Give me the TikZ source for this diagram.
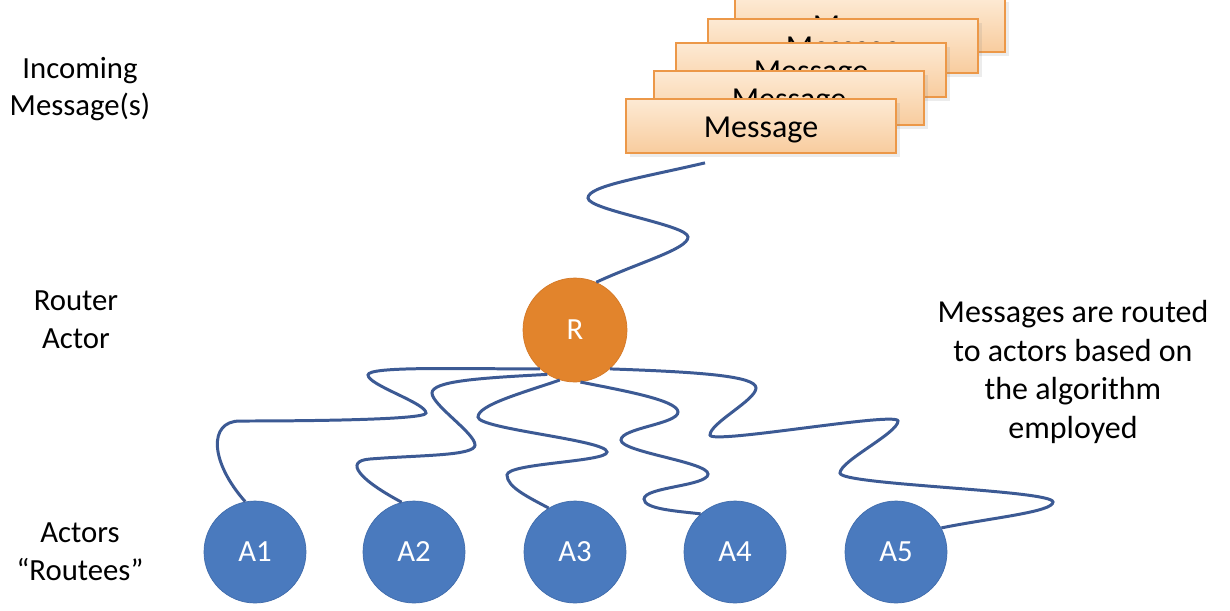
\documentclass[tikz,border=0pt]{standalone}
\usepackage{fontspec}
\setmainfont{Carlito}
\usetikzlibrary{calc,shadows}
\definecolor{ActorBlue}{RGB}{74,122,190}
\definecolor{ActorEdge}{RGB}{64,108,172}
\definecolor{RouterOrange}{RGB}{226,132,44}
\definecolor{RouterEdge}{RGB}{212,120,38}
\definecolor{WireBlue}{RGB}{60,90,148}
\definecolor{MsgTop}{RGB}{253,234,212}
\definecolor{MsgBottom}{RGB}{248,204,158}
\definecolor{MsgEdge}{RGB}{236,152,72}
\tikzset{
  msgbox/.style={draw=MsgEdge,line width=1pt,top color=MsgTop,bottom color=MsgBottom,
    minimum width=5.4cm,minimum height=1.08cm,inner sep=0pt,text height=13.6pt,text depth=0pt,
    font=\fontsize{18.2}{21.8}\selectfont,drop shadow={opacity=.15}},
  actor/.style={circle,fill=ActorBlue,draw=ActorEdge,text=white,minimum size=2.04cm,inner sep=0pt},
  router/.style={circle,fill=RouterOrange,draw=RouterEdge,text=white,minimum size=2.08cm,inner sep=0pt},
  sidetext/.style={align=center,inner sep=0pt},
  wire/.style={WireBlue,line width=1.7pt}
}

\begin{document}
\begin{tikzpicture}[x=0.02cm,y=-0.02cm,every node/.style={font=\fontsize{17.5}{21.5}\selectfont}]
  \useasboundingbox (0,0) rectangle (1230,610);
  \clip (0,0) rectangle (1230,610);
  \fill[white] (0,0) rectangle (1230,610);
  \foreach \i/\x/\y in {5/870/25,4/843/46,3/811/70,2/789/98,1/761/126}
    \node[msgbox] (m\i) at (\x,\y) {Message};
  \node[router] (router) at (575,330) {R};
  \foreach \i/\x in {1/255,2/414,3/575,4/735,5/896}
    \node[actor] (a\i) at (\x,552) {A\i};
  \node[sidetext] (incoming) at (80,89) {Incoming\\Message(s)};
  \node[sidetext] (routerlabel) at (76,320) {Router\\Actor};
  \node[sidetext] (actorslabel) at (80,552) {Actors\\“Routees”};
  \node[sidetext,font=\fontsize{18.2}{22}\selectfont] (explain) at (1073,372) {Messages are routed\\to actors based on\\the algorithm\\employed};
  \draw[wire] ($(m1.south)+(-56,9)$) .. controls (640,178) and (588,186) .. (588,198)
    .. controls (588,210) and (688,225) .. (688,237)
    .. controls (688,249) and (640,262) .. (router.66);
  \draw[wire] (router.228) .. controls (460,369) and (368,366) .. (368,375)
    .. controls (368,385) and (426,403) .. (426,413)
    .. controls (426,420) and (300,421) .. (240,421)
    .. controls (208,421) and (210,462) .. (a1.101);
  \draw[wire] (router.238) .. controls (480,378) and (432,381) .. (432,393)
    .. controls (432,405) and (475,433) .. (475,445)
    .. controls (475,456) and (420,455) .. (370,459)
    .. controls (343,461) and (360,480) .. (a2.104);
  \draw[wire] (router.253) .. controls (522,393) and (478,405) .. (478,417)
    .. controls (478,429) and (607,440) .. (607,452)
    .. controls (607,462) and (507,463) .. (507,475)
    .. controls (507,487) and (528,497) .. (a3.121);
  \draw[wire] (router.276) .. controls (620,390) and (678,400) .. (678,412)
    .. controls (678,424) and (621,428) .. (621,440)
    .. controls (621,452) and (708,462) .. (708,474)
    .. controls (708,486) and (644,487) .. (644,499)
    .. controls (644,509) and (676,511) .. (a4.132);
  \draw[wire] (router.312) .. controls (700,372) and (756,376) .. (756,388)
    .. controls (756,400) and (710,423) .. (710,435)
    .. controls (710,445) and (898,411) .. (898,421)
    .. controls (898,433) and (840,461) .. (840,473)
    .. controls (840,485) and (1053,490) .. (1053,502)
    .. controls (1053,512) and (990,518) .. (a5.28);
\end{tikzpicture}
\end{document}
